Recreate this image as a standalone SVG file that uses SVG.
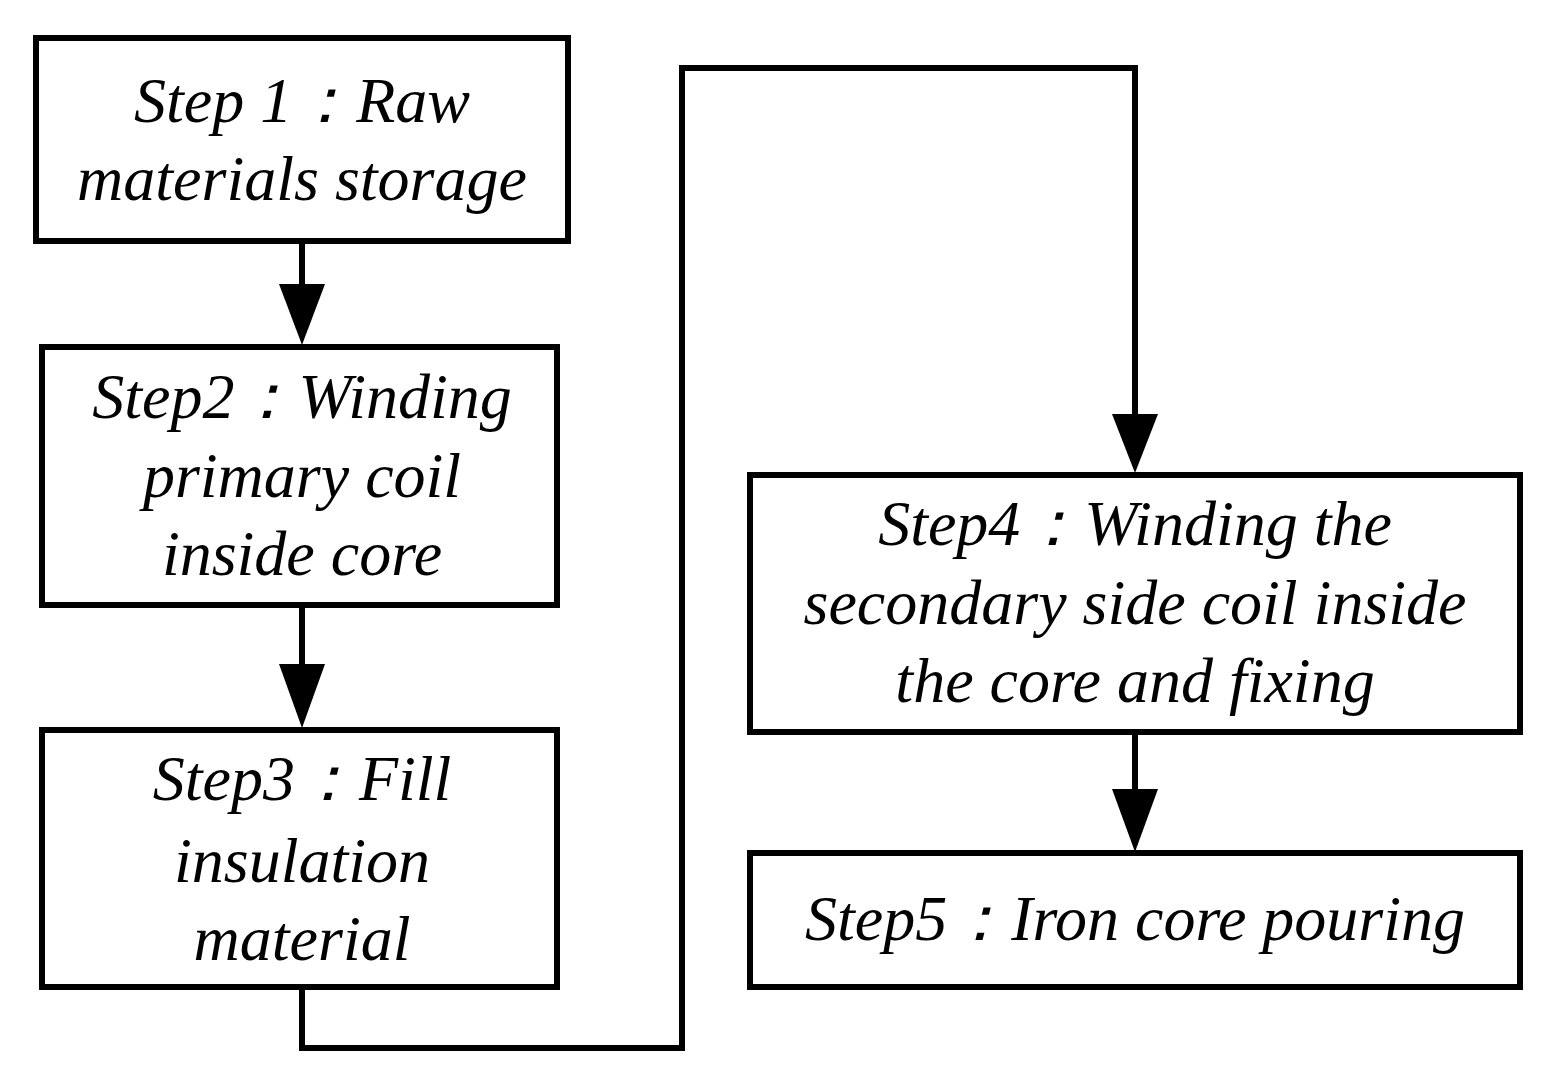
<svg xmlns="http://www.w3.org/2000/svg" width="1553" height="1080" viewBox="0 0 1553 1080">
<style>
.box{fill:#fff;stroke:#000;stroke-width:6}
.t{font-family:"Liberation Serif",serif;font-style:italic;font-size:64px;text-anchor:middle;fill:#000}
.c{fill:none;stroke:#000;stroke-width:6}
</style>
<rect width="1553" height="1080" fill="#fff"/>
<g id="connectors">
<path class="c" d="M302,241 V285"/><path d="M279,284 H325 L302,345 Z"/>
<path class="c" d="M302,605 V665"/><path d="M279,664 H325 L302,728 Z"/>
<path class="c" d="M1135,732 V790"/><path d="M1112,789 H1158 L1135,852 Z"/>
<path class="c" d="M302,975 V1048 H682 V68 H1135 V415"/><path d="M1112,414 H1158 L1135,473 Z"/>
</g>
<g id="n1"><rect class="box" x="36" y="38" width="532" height="203"/><text class="t" x="302" y="122">Step 1：Raw</text><text class="t" x="302" y="200">materials storage</text></g>
<g id="n2"><rect class="box" x="42" y="347" width="515" height="258"/><text class="t" x="302" y="418">Step2：Winding</text><text class="t" x="302" y="497">primary coil</text><text class="t" x="302" y="575">inside core</text></g>
<g id="n3"><rect class="box" x="42" y="730" width="515" height="257"/><text class="t" x="302" y="800">Step3：Fill</text><text class="t" x="302" y="882">insulation</text><text class="t" x="302" y="960">material</text></g>
<g id="n4"><rect class="box" x="750" y="475" width="770" height="257"/><text class="t" x="1135" y="545">Step4：Winding the</text><text class="t" x="1135" y="624">secondary side coil inside</text><text class="t" x="1135" y="702">the core and fixing</text></g>
<g id="n5"><rect class="box" x="750" y="853" width="770" height="134"/><text class="t" x="1135" y="940">Step5：Iron core pouring</text></g>
</svg>
